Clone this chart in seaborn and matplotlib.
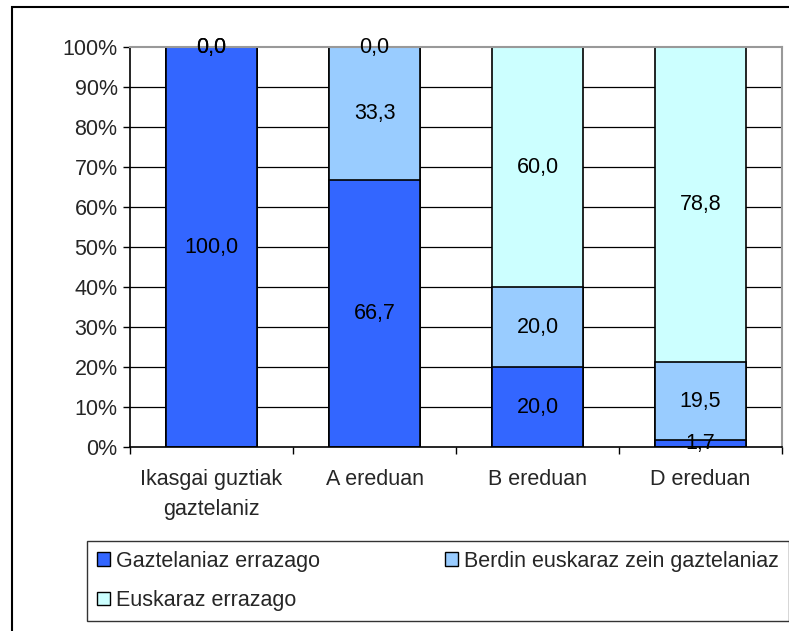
import matplotlib
matplotlib.use("Agg")
import matplotlib.pyplot as plt
import matplotlib.patches as mpatches
import numpy as np
import pandas as pd
import seaborn as sns

# data
categories = ["Ikasgai guztiak\ngaztelaniz", "A ereduan", "B ereduan", "D ereduan"]
gaztelaniaz = [100.0, 66.7, 20.0, 1.7]
berdin = [0.0, 33.3, 20.0, 19.5]
euskaraz = [0.0, 0.0, 60.0, 78.8]
series_names = ["Gaztelaniaz errazago", "Berdin euskaraz zein gaztelaniaz", "Euskaraz errazago"]
colors = ["#3366FF", "#99CCFF", "#CCFFFF"]

sns.set_style("white")
plt.rcParams["font.family"] = ["Liberation Sans", "DejaVu Sans"]

df = pd.DataFrame({"cat": categories, "g": gaztelaniaz, "b": berdin, "e": euskaraz})
df["c1"] = df["g"]
df["c2"] = df["g"] + df["b"]
df["c3"] = df["c2"] + df["e"]

fig = plt.figure(figsize=(7.89, 6.31), dpi=100)
ax = fig.add_axes([130 / 789, 1 - 447 / 631, 652 / 789, 400 / 631])

# outer chart frame (only left/top visible in reference)
fig.patches.append(mpatches.Rectangle((12 / 789, -0.1), 1.2, 1 - 7 / 631 + 0.1,
                                      transform=fig.transFigure, fill=False,
                                      edgecolor="black", linewidth=1.5))

# gridlines
for v in range(10, 100, 10):
    ax.axhline(v, color="black", linewidth=0.9, zorder=0)

# stacked bars: draw cumulative totals from top down
for col, c in zip(["c3", "c2", "c1"], colors[::-1]):
    sns.barplot(data=df, x="cat", y=col, color=c, edgecolor="black",
                linewidth=1.2, width=0.56, saturation=1, ax=ax, zorder=2)

# value labels
fs = 15.5
for i in range(len(categories)):
    bottoms = [0, df["c1"][i], df["c2"][i]]
    vals = [gaztelaniaz[i], berdin[i], euskaraz[i]]
    for b, v in zip(bottoms, vals):
        ax.text(i, b + v / 2, f"{v:.1f}".replace(".", ","), ha="center", va="center",
                fontsize=fs, color="black", zorder=5)

ax.set_xlim(-0.5, 3.5)
ax.set_ylim(0, 100)
ax.set_yticks(range(0, 101, 10))
ax.set_yticklabels([f"{v}%" for v in range(0, 101, 10)], fontsize=fs)
ax.set_xticks(range(4))
ax.set_xticklabels(categories, fontsize=fs, linespacing=1.55)
ax.tick_params(axis="x", length=0, pad=16)
ax.set_xticks(np.arange(-0.5, 4, 1), minor=True)
ax.tick_params(axis="x", which="minor", length=5, width=1, color="black", direction="out", bottom=True)
ax.tick_params(axis="y", length=5, width=1, color="black", direction="out", left=True, pad=4)
ax.set_xlabel("")
ax.set_ylabel("")

for s in ["left", "bottom"]:
    ax.spines[s].set_color("black")
    ax.spines[s].set_linewidth(1.2)
for s in ["top", "right"]:
    ax.spines[s].set_color("#999999")
    ax.spines[s].set_linewidth(1.5)

# legend, row-wise order
handles = [mpatches.Patch(facecolor=c, edgecolor="black", label=n) for c, n in zip(colors, series_names)]
order = [0, 2, 1]
leg = fig.legend([handles[k] for k in order], [series_names[k] for k in order],
                 ncol=2, loc="upper left", bbox_to_anchor=(87 / 789, 1 - 541 / 631),
                 fontsize=fs, frameon=True, fancybox=False, handlelength=0.6, handleheight=0.6,
                 handletextpad=0.3, columnspacing=5.8, borderaxespad=0, borderpad=0.45,
                 labelspacing=0.85)
leg.get_frame().set_edgecolor("black")
leg.get_frame().set_linewidth(1)

fig.savefig("out.png", dpi=100)
